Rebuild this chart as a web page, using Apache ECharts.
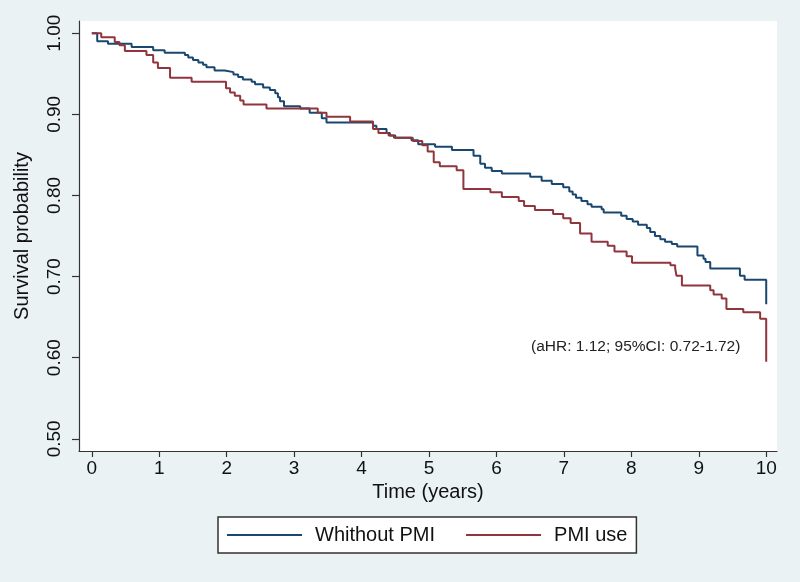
<!DOCTYPE html>
<html>
<head>
<meta charset="utf-8">
<script src="https://cdn.jsdelivr.net/npm/echarts@6/dist/echarts.min.js"></script>
<style>
html,body{margin:0;padding:0;background:#EAF2F3;}
#c{width:800px;height:582px;}
</style>
</head>
<body>
<div id="c"></div>
<script>
var seriesNames = ["Whithout PMI", "PMI use"];
var xTicks = [0,1,2,3,4,5,6,7,8,9,10];
var yTicks = [0.5,0.6,0.7,0.8,0.9,1.0];
var annotation = "(aHR: 1.12; 95%CI: 0.72-1.72)";

// [time (years), survival probability after the step]
var withoutPMI = [
 [0,1.000],[0.08,0.990],[0.24,0.987],[0.59,0.983],[0.91,0.979],[1.08,0.976],
 [1.38,0.973],[1.43,0.970],[1.50,0.967],[1.58,0.964],[1.65,0.961],[1.70,0.958],
 [1.82,0.954],[1.97,0.952],[2.10,0.949],[2.17,0.946],[2.24,0.943],[2.37,0.940],
 [2.42,0.937],[2.54,0.933],[2.64,0.930],[2.72,0.926],[2.76,0.921],[2.79,0.916],
 [2.85,0.910],[3.09,0.907],[3.23,0.902],[3.41,0.895],[3.48,0.890],[4.17,0.886],
 [4.22,0.882],[4.37,0.877],[4.42,0.874],[4.50,0.871],[4.74,0.868],[4.84,0.863],
 [5.09,0.860],[5.34,0.856],[5.66,0.849],[5.76,0.839],[5.83,0.834],[5.93,0.830],
 [6.08,0.827],[6.50,0.823],[6.67,0.818],[6.82,0.814],[6.99,0.810],[7.08,0.805],
 [7.13,0.801],[7.18,0.797],[7.26,0.793],[7.35,0.789],[7.41,0.786],[7.56,0.783],
 [7.59,0.779],[7.85,0.775],[7.93,0.771],[8.02,0.768],[8.10,0.764],[8.23,0.760],
 [8.28,0.755],[8.35,0.750],[8.43,0.746],[8.50,0.743],[8.60,0.740],[8.68,0.737],
 [8.98,0.726],[9.07,0.722],[9.10,0.718],[9.17,0.710],[9.61,0.701],[9.68,0.696],
 [10.0,0.666]
];
var pmiUse = [
 [0,1.000],[0.14,0.995],[0.34,0.989],[0.41,0.985],[0.49,0.978],[0.81,0.973],
 [0.91,0.964],[0.98,0.957],[1.16,0.945],[1.48,0.940],[1.99,0.932],[2.05,0.927],
 [2.12,0.923],[2.20,0.917],[2.25,0.912],[2.59,0.907],[3.35,0.902],[3.48,0.897],
 [3.83,0.891],[4.17,0.882],[4.25,0.877],[4.40,0.874],[4.48,0.871],[4.76,0.867],
 [4.90,0.862],[4.98,0.854],[5.07,0.841],[5.16,0.836],[5.41,0.831],[5.51,0.808],
 [5.91,0.804],[6.08,0.798],[6.33,0.793],[6.41,0.787],[6.57,0.782],[6.84,0.777],
 [6.99,0.772],[7.10,0.766],[7.24,0.753],[7.41,0.743],[7.65,0.738],[7.75,0.731],
 [7.93,0.725],[8.01,0.717],[8.58,0.714],[8.65,0.710],[8.67,0.701],[8.75,0.689],
 [9.17,0.683],[9.22,0.678],[9.34,0.673],[9.41,0.660],[9.66,0.656],[9.91,0.648],
 [10.0,0.595]
];

var FONT = '"Liberation Sans", Arial, sans-serif';
var chart = echarts.init(document.getElementById('c'), null, {renderer:'canvas'});
chart.setOption({
  animation: false,
  backgroundColor: '#EAF2F3',
  textStyle: {fontFamily: FONT},
  grid: {left: 79, right: 23, top: 21, bottom: 131, show: true,
         backgroundColor: '#ffffff', borderWidth: 0, containLabel: false},
  legend: {
    data: seriesNames,
    left: 218, top: 517,
    orient: 'horizontal',
    padding: [8, 9, 8, 9],
    borderColor: '#333333', borderWidth: 1.5,
    backgroundColor: '#ffffff',
    borderRadius: 0,
    icon: 'rect',
    itemWidth: 75, itemHeight: 2,
    itemGap: 31,
    textStyle: {fontSize: 20, color: '#111111', fontFamily: FONT, padding: [0,0,0,8]}
  },
  xAxis: {
    type: 'value', min: -0.19, max: 10.16,
    name: 'Time (years)', nameLocation: 'middle', nameGap: 31,
    nameTextStyle: {fontSize: 20, color: '#111111', fontFamily: FONT},
    axisLine: {show: true, onZero: false, lineStyle: {color: '#333333', width: 1.2}},
    axisTick: {show: true, length: 6, customValues: xTicks, lineStyle: {color: '#333333', width: 1.2}},
    axisLabel: {customValues: xTicks, fontSize: 19, color: '#111111', margin: 8, fontFamily: FONT},
    splitLine: {show: false}
  },
  yAxis: {
    type: 'value', min: 0.485, max: 1.015,
    name: 'Survival probability', nameLocation: 'middle', nameGap: 47,
    nameTextStyle: {fontSize: 20, color: '#111111', fontFamily: FONT},
    axisLine: {show: true, onZero: false, lineStyle: {color: '#333333', width: 1.2}},
    axisTick: {show: true, length: 7, customValues: yTicks, lineStyle: {color: '#333333', width: 1.2}},
    axisLabel: {customValues: yTicks, rotate: 90, fontSize: 19, color: '#111111', margin: 15,
                fontFamily: FONT, formatter: function(v){ return v.toFixed(2); }},
    splitLine: {show: false}
  },
  graphic: [{
    type: 'text', left: 531, top: 339,
    style: {text: annotation, fontSize: 15.5, fill: '#222222', fontFamily: FONT}
  }],
  series: [
    {name: seriesNames[0], type: 'line', step: 'end', data: withoutPMI,
     showSymbol: false, symbol: 'none', color: '#1A476F',
     lineStyle: {color: '#1A476F', width: 2}},
    {name: seriesNames[1], type: 'line', step: 'end', data: pmiUse,
     showSymbol: false, symbol: 'none', color: '#90353B',
     lineStyle: {color: '#90353B', width: 2}}
  ]
});
</script>
</body>
</html>
